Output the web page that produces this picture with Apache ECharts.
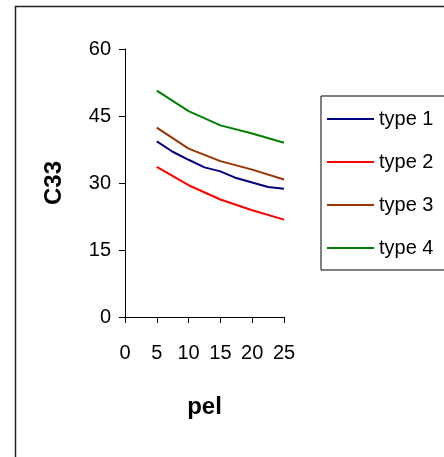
<!DOCTYPE html>
<html>
<head>
<meta charset="utf-8">
<script src="https://cdn.jsdelivr.net/npm/echarts@6/dist/echarts.min.js"></script>
<style>
html,body{margin:0;padding:0;background:#fff;}
#chart{width:444px;height:457px;}
</style>
</head>
<body>
<div id="chart"></div>
<script>
var seriesNames = ['type 1', 'type 2', 'type 3', 'type 4'];
var seriesColors = ['#000080', '#FF0000', '#993300', '#008000'];
var xType1 = [5, 7.5, 10, 12.5, 15, 17.5, 20, 22.5, 25];
var yType1 = [39.3, 37.0, 35.2, 33.5, 32.6, 31.1, 30.1, 29.1, 28.7];
var xOther = [5, 10, 15, 20, 25];
var yType2 = [33.6, 29.5, 26.3, 23.9, 21.8];
var yType3 = [42.4, 37.7, 34.9, 33.0, 30.8];
var yType4 = [50.7, 46.1, 42.9, 41.1, 39.0];
var xTicks = [0, 5, 10, 15, 20, 25];
var yTicks = [0, 15, 30, 45, 60];

function pairs(xs, ys) { return xs.map(function (x, i) { return [x, ys[i]]; }); }
var allData = [pairs(xType1, yType1), pairs(xOther, yType2), pairs(xOther, yType3), pairs(xOther, yType4)];

var font = 'Liberation Sans, Arial, sans-serif';
var chart = echarts.init(document.getElementById('chart'), null, {renderer: 'canvas'});
chart.setOption({
  animation: false,
  backgroundColor: '#fff',
  graphic: [{
    type: 'rect', left: 13, top: 4, silent: true,
    shape: {x: 0, y: 0, width: 500, height: 500},
    style: {fill: 'none', stroke: '#222', lineWidth: 1.5}
  }],
  grid: {left: 125, right: 160, top: 49, bottom: 140, containLabel: false},
  legend: {
    orient: 'vertical', left: 321, top: 96,
    padding: [13, 20, 12, 6],
    borderColor: '#000', borderWidth: 1,
    itemWidth: 47, itemHeight: 2, itemGap: 23,
    icon: 'rect',
    textStyle: {fontFamily: font, fontSize: 20, color: '#000'},
    data: seriesNames
  },
  xAxis: {
    type: 'value', min: xTicks[0], max: xTicks[xTicks.length - 1], interval: 5,
    name: 'pel', nameLocation: 'middle', nameGap: 78,
    nameTextStyle: {fontFamily: font, fontSize: 24, fontWeight: 'bold', color: '#000'},
    axisLine: {show: true, onZero: false, lineStyle: {color: '#000', width: 1}},
    axisTick: {show: true, inside: false, length: 6, lineStyle: {color: '#000'}},
    axisLabel: {margin: 26, fontFamily: font, fontSize: 20, color: '#000'},
    splitLine: {show: false}
  },
  yAxis: {
    type: 'value', min: yTicks[0], max: yTicks[yTicks.length - 1], interval: 15,
    name: 'C33', nameLocation: 'middle', nameGap: 59,
    nameTextStyle: {fontFamily: font, fontSize: 24, fontWeight: 'bold', color: '#000'},
    axisLine: {show: true, lineStyle: {color: '#000', width: 1}},
    axisTick: {show: true, inside: false, length: 6, lineStyle: {color: '#000'}},
    axisLabel: {margin: 14, fontFamily: font, fontSize: 20, color: '#000'},
    splitLine: {show: false}
  },
  series: seriesNames.map(function (n, i) {
    return {
      name: n, type: 'line', data: allData[i],
      showSymbol: false, symbol: 'none',
      color: seriesColors[i],
      lineStyle: {color: seriesColors[i], width: 2},
      itemStyle: {color: seriesColors[i]}
    };
  })
});
</script>
</body>
</html>
